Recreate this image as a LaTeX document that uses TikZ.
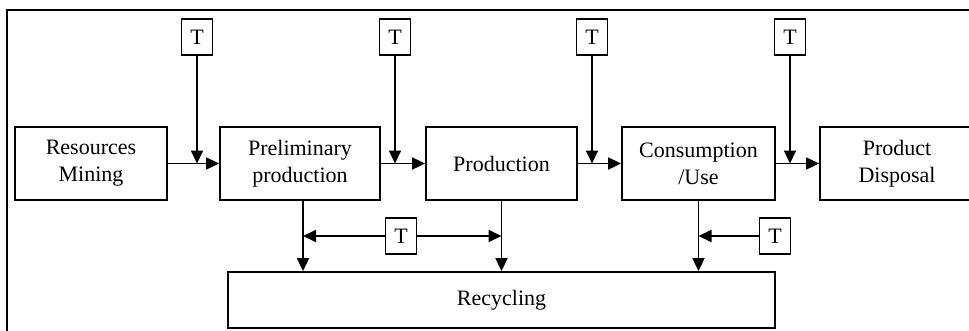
\documentclass[tikz,border=0pt]{standalone}
\usepackage{fontspec}
\setmainfont{Liberation Serif}
\usetikzlibrary{arrows.meta}
\begin{document}
\begin{tikzpicture}[x=1pt,y=-1pt,
  box/.style={draw, line width=1.8pt, align=center, inner sep=0pt, minimum height=73pt,
    font=\fontsize{22}{27}\selectfont},
  tbox/.style={draw, line width=1.8pt, inner sep=0pt, minimum width=31pt, minimum height=36pt,
    font=\fontsize{22}{27}\selectfont},
  arr/.style={line width=1.8pt, -{Triangle[length=13pt,width=12pt]}},
  ln/.style={line width=1.8pt}]
\clip (0,0) rectangle (969,330);
\fill[white] (0,0) rectangle (969,330);
\draw[line width=1.2pt] (7,335) -- (7,10) -- (975,10);
% main boxes
\node[box, minimum width=152pt] (res) at (91,163.5) {Resources\\Mining};
\node[box, minimum width=160pt] (pre) at (300,163.5) {Preliminary\\production};
\node[box, minimum width=151pt] (prod) at (501.5,163.5) {Production};
\node[box, minimum width=153pt] (cons) at (698.5,163.5) {Consumption\\/Use};
\node[box, minimum width=154pt] (disp) at (897,163.5) {Product\\Disposal};
\node[box, minimum width=547pt, minimum height=56pt] (rec) at (501.5,300) {Recycling};
% T boxes
\node[tbox] (t1) at (197,37) {T};
\node[tbox] (t2) at (395,37) {T};
\node[tbox] (t3) at (592,37) {T};
\node[tbox] (t4) at (790,37) {T};
\node[tbox] (tb1) at (401,236) {T};
\node[tbox] (tb2) at (775,236) {T};
% junction coordinates
\coordinate (v1) at (303,200);
\coordinate (v2) at (501.5,200);
\coordinate (v3) at (698.5,200);
% main flow
\draw[arr] (res.east) -- (pre.west);
\draw[arr] (pre.east) -- (prod.west);
\draw[arr] (prod.east) -- (cons.west);
\draw[arr] (cons.east) -- (disp.west);
\draw[arr] (t1.south) -- (t1.south |- res.east);
\draw[arr] (t2.south) -- (t2.south |- pre.east);
\draw[arr] (t3.south) -- (t3.south |- prod.east);
\draw[arr] (t4.south) -- (t4.south |- cons.east);
% down to recycling
\draw[arr] (v1) -- (v1 |- rec.north);
\draw[arr] (v2) -- (v2 |- rec.north);
\draw[arr] (v3) -- (v3 |- rec.north);
% bottom T arrows
\draw[arr] (tb1.west) -- (tb1.west -| v1);
\draw[arr] (tb1.east) -- (tb1.east -| v2);
\draw[arr] (tb2.west) -- (tb2.west -| v3);
\end{tikzpicture}
\end{document}
